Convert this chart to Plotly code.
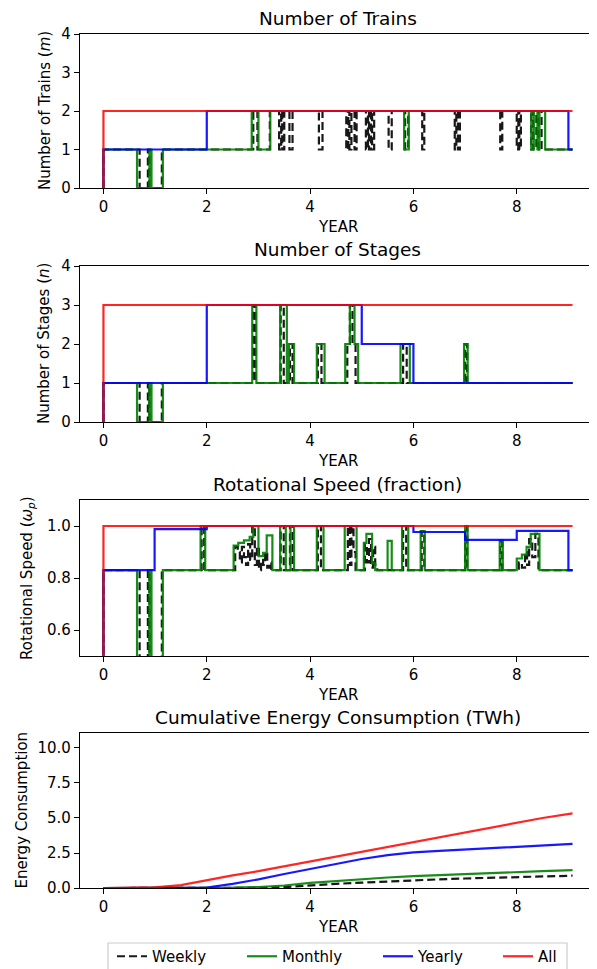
import plotly.graph_objects as go

W, H = 597, 969
OFF = 8  # the page body has an 8px margin; layout positions below are page pixels

# ---------------- data ----------------
series_names = ["Weekly", "Monthly", "Yearly", "All"]

# Number of trains (step series: value holds from x[i] onward)
trains_weekly_x = [0, 0, 0.70, 0.86, 0.89, 1.13, 2.90, 2.98, 3.22, 3.40, 3.44, 3.46, 3.50, 3.60, 3.66,
                   4.17, 4.24, 4.70, 4.74, 4.76, 4.80, 4.86, 4.90, 5.08, 5.12, 5.14, 5.18, 5.20, 5.24,
                   5.52, 5.58, 5.84, 5.90, 6.17, 6.21, 6.80, 6.83, 6.86, 6.90, 7.68, 7.72, 8.00, 8.03,
                   8.05, 8.08, 8.28, 8.32, 8.38, 8.42, 8.48, 9.08]
trains_weekly_y = [0, 1, 0, 1, 0, 1, 2, 1, 2, 1, 2, 1, 2, 1, 2,
                   1, 2, 1, 2, 1, 2, 1, 2, 1, 2, 1, 2, 1, 2,
                   1, 2, 1, 2, 1, 2, 1, 2, 1, 2, 1, 2, 1, 2,
                   1, 2, 1, 2, 1, 2, 1, 1]
trains_monthly_x = [0, 0, 0.65, 0.89, 0.93, 1.15, 2.87, 3.00, 3.23, 5.82, 5.91, 8.28, 8.33, 8.40, 8.44, 8.55, 9.08]
trains_monthly_y = [0, 1, 0, 1, 0, 1, 2, 1, 2, 1, 2, 1, 2, 1, 2, 1, 1]
trains_yearly_x = [0, 0, 2.0, 9.0, 9.08]
trains_yearly_y = [0, 1, 2, 1, 1]
trains_all_x = [0, 0, 9.08]
trains_all_y = [0, 2, 2]

# Number of stages
stages_weekly_x = [0, 0, 0.70, 0.86, 0.89, 1.13, 2.90, 2.94, 3.43, 3.49, 3.61, 3.66, 4.15, 4.22,
                   4.72, 4.77, 4.82, 4.88, 5.80, 5.87, 7.00, 7.04, 9.08]
stages_weekly_y = [0, 1, 0, 1, 0, 1, 3, 1, 3, 1, 2, 1, 2, 1, 2, 3, 2, 1, 2, 1, 2, 1, 1]
stages_monthly_x = [0, 0, 0.65, 0.89, 0.93, 1.15, 2.88, 2.96, 3.42, 3.55, 3.59, 3.69, 4.13, 4.28,
                    4.68, 4.77, 4.86, 4.93, 5.75, 5.93, 6.98, 7.05, 9.08]
stages_monthly_y = [0, 1, 0, 1, 0, 1, 3, 1, 3, 1, 2, 1, 2, 1, 2, 3, 2, 1, 2, 1, 2, 1, 1]
stages_yearly_x = [0, 0, 2.0, 5.0, 6.0, 9.08]
stages_yearly_y = [0, 1, 3, 2, 1, 1]
stages_all_x = [0, 0, 9.08]
stages_all_y = [0, 3, 3]

# Rotational speed (fraction)
speed_weekly_x = [0, 0, 0.70, 0.86, 0.89, 1.13, 1.90, 1.95,
                  2.55, 2.60, 2.64, 2.68, 2.72, 2.76, 2.80, 2.84, 2.88, 2.93, 2.97, 3.01, 3.05, 3.09, 3.13, 3.17, 3.21, 3.25,
                  3.43, 3.49, 3.61, 3.66, 4.15, 4.21, 4.73, 4.77, 4.80, 4.84, 4.88,
                  5.06, 5.10, 5.14, 5.18, 5.22, 5.26, 5.30, 5.80, 5.86, 6.16, 6.21, 7.00, 7.04, 7.68, 7.72,
                  8.04, 8.10, 8.16, 8.20, 8.24, 8.30, 8.36, 8.42, 9.08]
speed_weekly_y = [0, 0.83, 0, 0.83, 0, 0.83, 1.0, 0.83,
                  0.92, 0.90, 0.86, 0.92, 0.88, 0.85, 0.93, 0.87, 1.0, 0.85, 0.92, 0.83, 0.87, 0.85, 0.90, 0.84, 0.86, 0.83,
                  1.0, 0.83, 1.0, 0.83, 1.0, 0.83, 1.0, 0.85, 1.0, 0.90, 0.83,
                  0.93, 0.86, 0.95, 0.84, 0.92, 0.85, 0.83, 1.0, 0.83, 0.98, 0.83, 1.0, 0.83, 0.94, 0.83,
                  0.86, 0.84, 0.90, 0.85, 0.95, 0.88, 0.97, 0.83, 0.83]
speed_monthly_x = [0, 0, 0.65, 0.89, 0.93, 1.15, 1.88, 1.97,
                   2.52, 2.61, 2.72, 2.83, 2.90, 3.00, 3.09, 3.16, 3.27,
                   3.42, 3.53, 3.62, 3.69, 4.13, 4.26, 4.67, 4.90,
                   5.04, 5.09, 5.20, 5.26, 5.50, 5.58, 5.78, 5.90, 6.14, 6.22, 7.00, 7.05, 7.67, 7.73,
                   8.00, 8.10, 8.19, 8.27, 8.44, 9.08]
speed_monthly_y = [0, 0.83, 0, 0.83, 0, 0.83, 1.0, 0.83,
                   0.925, 0.935, 0.945, 0.958, 1.0, 0.884, 0.897, 0.964, 0.83,
                   1.0, 0.83, 1.0, 0.83, 1.0, 0.83, 1.0, 0.83,
                   0.935, 0.97, 0.856, 0.83, 0.943, 0.83, 1.0, 0.83, 0.98, 0.83, 1.0, 0.83, 0.945, 0.83,
                   0.875, 0.89, 0.92, 0.97, 0.83, 0.83]
speed_yearly_x = [0, 0, 0.99, 2.0, 6.0, 7.0, 8.0, 9.0, 9.08]
speed_yearly_y = [0, 0.83, 0.988, 1.0, 0.977, 0.947, 0.981, 0.83, 0.83]
speed_all_x = [0, 0, 9.08]
speed_all_y = [0, 1.0, 1.0]

# Cumulative energy consumption (TWh)
energy_x = [0, 0.5, 1, 1.5, 2, 2.5, 3, 3.5, 4, 4.5, 5, 5.5, 6, 6.5, 7, 7.5, 8, 8.5, 9.08]
energy_weekly = [0, 0, 0, 0, 0, 0, 0.01, 0.06, 0.2, 0.3, 0.38, 0.47, 0.55, 0.62, 0.68, 0.73, 0.78, 0.83, 0.88]
energy_monthly = [0, 0, 0, 0, 0, 0.02, 0.07, 0.18, 0.36, 0.5, 0.64, 0.75, 0.85, 0.93, 1.0, 1.06, 1.12, 1.2, 1.28]
energy_yearly = [0, 0, 0, 0, 0.03, 0.3, 0.62, 1.0, 1.35, 1.75, 2.07, 2.35, 2.54, 2.65, 2.75, 2.85, 2.94, 3.03, 3.15]
energy_all = [0, 0.01, 0.05, 0.2, 0.57, 0.9, 1.2, 1.55, 1.88, 2.2, 2.55, 2.9, 3.3, 3.6, 3.95, 4.3, 4.65, 5.0, 5.33]

panel_titles = ["Number of Trains", "Number of Stages", "Rotational Speed (fraction)",
                "Cumulative Energy Consumption (TWh)"]
ylabels = ["Number of Trains (<i>m</i>)", "Number of Stages (<i>n</i>)",
           "Rotational Speed (<i>ω<sub>p</sub></i>)", "Energy Consumption"]
x_ticks = [0, 2, 4, 6, 8]
y_ticks = [[0, 1, 2, 3, 4], [0, 1, 2, 3, 4], [0.6, 0.8, 1.0], [0.0, 2.5, 5.0, 7.5, 10.0]]
y_ranges = [[0, 4], [0, 4], [0.5, 1.1], [0, 11.07]]

# ---------------- styles ----------------
FONT = "DejaVu Sans"
colors = {"Weekly": "#000000", "Monthly": "#008000", "Yearly": "#0000ff", "All": "#ff0000"}
dashes = {"Weekly": "8px,4px", "Monthly": "solid", "Yearly": "solid", "All": "solid"}
LW = 2.2

# page-pixel layout of the panels (top, bottom)
panel_px = [(34, 188), (266, 422), (500, 656), (733, 888)]
X_LEFT, X_RIGHT = 80, 596
ylabel_x = [45, 44, 27, 21]


def px(x):
    return (x - OFF) / W


def py(y):
    return 1 - (y - OFF) / H


fig = go.Figure()

step_data = [
    [(trains_weekly_x, trains_weekly_y), (trains_monthly_x, trains_monthly_y),
     (trains_yearly_x, trains_yearly_y), (trains_all_x, trains_all_y)],
    [(stages_weekly_x, stages_weekly_y), (stages_monthly_x, stages_monthly_y),
     (stages_yearly_x, stages_yearly_y), (stages_all_x, stages_all_y)],
    [(speed_weekly_x, speed_weekly_y), (speed_monthly_x, speed_monthly_y),
     (speed_yearly_x, speed_yearly_y), (speed_all_x, speed_all_y)],
]
for p, panel in enumerate(step_data):
    xa = "x" if p == 0 else f"x{p+1}"
    ya = "y" if p == 0 else f"y{p+1}"
    for name, (xs, ys) in zip(series_names, panel):
        fig.add_trace(go.Scatter(
            x=xs, y=ys, mode="lines", line_shape="hv", name=name,
            line=dict(color=colors[name], width=LW, dash=dashes[name]),
            opacity=0.9 if name != "All" else 0.85,
            xaxis=xa, yaxis=ya, showlegend=False))

energy_series = [energy_weekly, energy_monthly, energy_yearly, energy_all]
legend_ids = ["legend", "legend2", "legend3", "legend4"]
for name, ys, lid in zip(series_names, energy_series, legend_ids):
    fig.add_trace(go.Scatter(
        x=energy_x, y=ys, mode="lines", name=name,
        line=dict(color=colors[name], width=LW, dash=dashes[name]),
        opacity=0.9 if name != "All" else 0.85,
        xaxis="x4", yaxis="y4", showlegend=True, legend=lid))

layout = dict(
    width=W, height=H,
    margin=dict(l=0, r=0, t=0, b=0, autoexpand=False),
    paper_bgcolor="white", plot_bgcolor="white",
    font=dict(family=FONT, size=15, color="black"),
    showlegend=True,
)

axis_common = dict(showline=True, linecolor="black", linewidth=1.3, mirror=True,
                   ticks="outside", ticklen=5, tickwidth=1.2, tickcolor="black",
                   showgrid=False, zeroline=False, automargin=False,
                   tickfont=dict(family=FONT, size=15, color="black"))

annotations = []
for p in range(4):
    top, bot = panel_px[p]
    sfx = "" if p == 0 else str(p + 1)
    layout["xaxis" + sfx] = dict(axis_common, domain=[px(X_LEFT), px(X_RIGHT)],
                                 range=[-0.454, 9.534], tickvals=x_ticks,
                                 anchor="y" + sfx)
    ycfg = dict(axis_common, domain=[py(bot), py(top)], range=y_ranges[p],
                tickvals=y_ticks[p], anchor="x" + sfx)
    if p >= 2:
        ycfg["tickformat"] = ".1f"
    layout["yaxis" + sfx] = ycfg
    cx = px((X_LEFT + X_RIGHT) / 2)
    annotations.append(dict(text=panel_titles[p], x=cx, y=py(top - 16),
                            xref="paper", yref="paper", xanchor="center", yanchor="middle",
                            showarrow=False, font=dict(family=FONT, size=18.5, color="black")))
    annotations.append(dict(text="YEAR", x=cx, y=py(bot + 39),
                            xref="paper", yref="paper", xanchor="center", yanchor="middle",
                            showarrow=False, font=dict(family=FONT, size=15, color="black")))
    annotations.append(dict(text=ylabels[p], x=px(ylabel_x[p]), y=py((top + bot) / 2),
                            xref="paper", yref="paper", xanchor="center", yanchor="middle",
                            textangle=-90, showarrow=False,
                            font=dict(family=FONT, size=15, color="black")))
layout["annotations"] = annotations

# legends (one entry each, laid out like the reference's single-row legend)
legend_left_px = [112, 242, 378, 498]
for lid, lx in zip(legend_ids, legend_left_px):
    layout[lid] = dict(x=px(lx), y=py(940), xanchor="left", yanchor="top",
                       xref="container", yref="container",
                       orientation="h", bgcolor="rgba(0,0,0,0)", borderwidth=0,
                       font=dict(family=FONT, size=15, color="black"))
layout["shapes"] = [dict(type="rect", xref="paper", yref="paper",
                         x0=px(108), x1=px(567), y0=py(975), y1=py(943),
                         line=dict(color="#cccccc", width=1.2), fillcolor="rgba(0,0,0,0)")]

fig.update_layout(layout)
fig.write_html("out.html")
